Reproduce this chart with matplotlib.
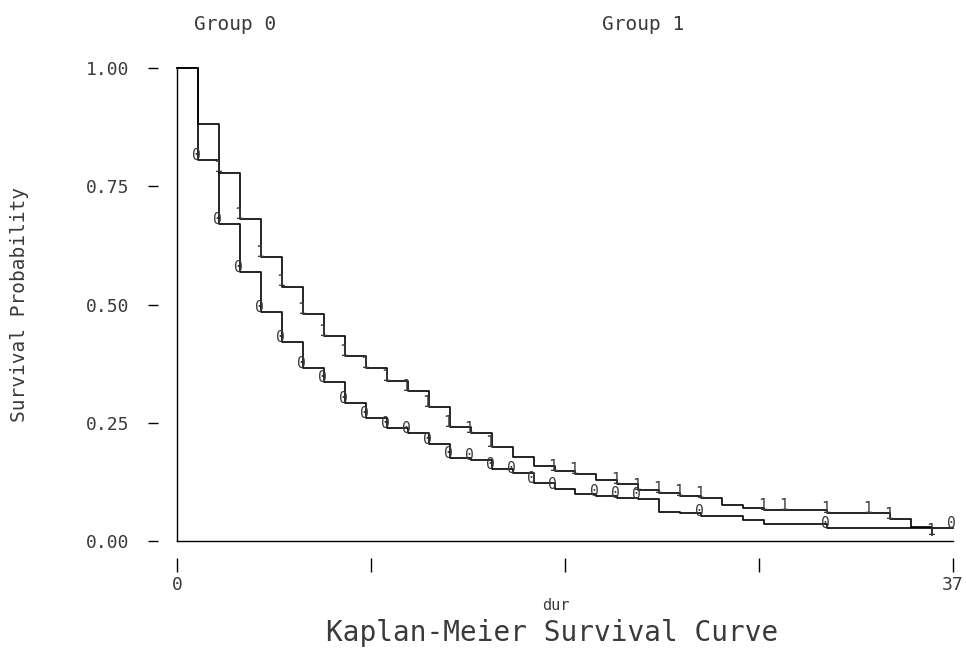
import numpy as np
import matplotlib
matplotlib.use('Agg')
import matplotlib.pyplot as plt

# ─── Data ─────────────────────────────────────────────────────────────────────

# group 0: times where the curve is drawn and survival after each time
g0_time = [0, 1, 2, 3, 4, 5, 6, 7, 8, 9, 10, 11, 12, 13, 14, 15, 16, 17, 18,
           19, 20, 21, 22, 23, 24, 25, 27, 28, 31, 37]
g0_surv = [1.0, 0.805, 0.670, 0.569, 0.484, 0.421, 0.366, 0.337, 0.291, 0.260,
           0.239, 0.228, 0.205, 0.176, 0.171, 0.152, 0.143, 0.123, 0.110,
           0.099, 0.095, 0.0915, 0.088, 0.062, 0.0586, 0.0535, 0.0444, 0.0353,
           0.0268, 0.0268]
g0_marks = [1, 2, 3, 4, 5, 6, 7, 8, 9, 10, 11, 12, 13, 14, 15, 16, 17, 18,
            20, 21, 22, 25, 31, 37]

# group 1
g1_time = [0, 1, 2, 3, 4, 5, 6, 7, 8, 9, 10, 11, 12, 13, 14, 15, 16, 17, 18,
           19, 20, 21, 22, 23, 24, 25, 26, 27, 28, 29, 31, 34, 35, 36]
g1_surv = [1.0, 0.882, 0.779, 0.680, 0.601, 0.538, 0.480, 0.433, 0.392, 0.365,
           0.339, 0.318, 0.284, 0.241, 0.228, 0.198, 0.178, 0.159, 0.148,
           0.142, 0.130, 0.1205, 0.108, 0.101, 0.095, 0.0915, 0.0767, 0.0708,
           0.0655, 0.0645, 0.0586, 0.0465, 0.029, 0.0127]
g1_marks = [2, 3, 4, 5, 6, 7, 8, 9, 10, 11, 12, 13, 14, 15, 18, 19, 21, 22,
            23, 24, 25, 28, 29, 31, 33, 34, 36]

y_ticks = [0.0, 0.25, 0.50, 0.75, 1.00]
x_ticks = [0, 9.25, 18.5, 27.75, 37]
x_ticklabels = ['0', '', '', '', '37']

FONT = 'DejaVu Sans Mono'
INK = '#3a3a3a'
W, H = 966, 651


def surv_at(times, surv, t):
    i = np.searchsorted(times, t, side='right') - 1
    return surv[i]


fig = plt.figure(figsize=(W / 100, H / 100), dpi=100, facecolor='white')
ax = fig.add_axes([177 / W, (H - 541) / H, 776 / W, 473 / H])
ax.set_xlim(0, 37)
ax.set_ylim(0, 1)

for times, surv, marks, sym in [(g0_time, g0_surv, g0_marks, '0'),
                                (g1_time, g1_surv, g1_marks, '1')]:
    ax.step(times, surv, where='post', color='black', lw=1.2, clip_on=False)
    for t in marks:
        ax.annotate(sym, (t, surv_at(times, surv, t)), xytext=(-1.2, 3.3),
                    textcoords='offset points', ha='center', va='center',
                    fontsize=10.5, family=FONT, color=INK,
                    annotation_clip=False)

# frame lines at the data edge, ticks detached outward
ax.axvline(0, color='black', lw=1.0, clip_on=False)
ax.axhline(0, color='black', lw=1.0, clip_on=False)
for s in ['top', 'right']:
    ax.spines[s].set_visible(False)
ax.spines['left'].set_position(('outward', 13.7))
ax.spines['bottom'].set_position(('outward', 12.2))
ax.spines['left'].set_color('none')
ax.spines['bottom'].set_color('none')

ax.set_yticks(y_ticks)
ax.set_yticklabels([f'{v:.2f}' for v in y_ticks])
ax.set_xticks(x_ticks)
ax.set_xticklabels(x_ticklabels)
ax.tick_params(axis='y', direction='out', length=7.2, width=1.0,
               pad=13.5, labelsize=13, labelcolor=INK)
ax.tick_params(axis='x', direction='out', length=10, width=1.0,
               pad=3, labelsize=13, labelcolor=INK)
for lab in ax.get_xticklabels() + ax.get_yticklabels():
    lab.set_family(FONT)

fig.text(20 / W, 1 - 305 / H, 'Survival Probability', rotation=90,
         ha='center', va='center', fontsize=14, family=FONT, color=INK)
fig.text(235 / W, 1 - 25 / H, 'Group 0', ha='center', va='center',
         fontsize=14, family=FONT, color=INK)
fig.text(643 / W, 1 - 25 / H, 'Group 1', ha='center', va='center',
         fontsize=14, family=FONT, color=INK)
fig.text(556 / W, 1 - 605 / H, 'dur', ha='center', va='center',
         fontsize=11, family=FONT, color=INK)
fig.text(552 / W, 1 - 633 / H, 'Kaplan-Meier Survival Curve', ha='center',
         va='center', fontsize=20, family=FONT, color=INK)

fig.savefig('out.png', dpi=100, facecolor='white')
